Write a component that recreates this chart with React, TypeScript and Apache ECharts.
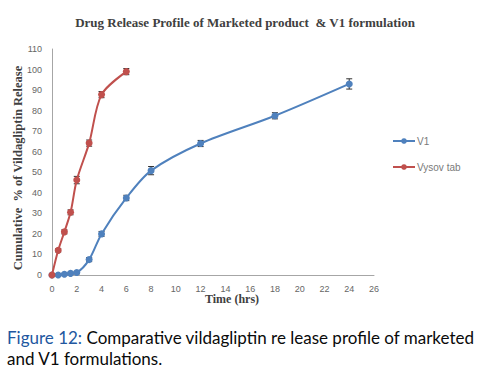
import React, { useEffect, useRef } from "react";
import * as echarts from "echarts";

const v1Time = [0, 0.5, 1, 1.5, 2, 3, 4, 6, 8, 12, 18, 24];
const v1Values = [0, 0, 0.4, 0.8, 1.2, 7.5, 20, 37.5, 50.8, 64, 77.5, 93];
const v1Err = [0, 0.4, 0.4, 0.5, 0.6, 1, 1.2, 1.3, 2, 1.5, 1.5, 2.5];

const vysovTime = [0, 0.5, 1, 1.5, 2, 3, 4, 6];
const vysovValues = [0, 12, 21, 30.5, 46.2, 64.2, 87.8, 99];
const vysovErr = [0, 0.8, 1, 1.2, 1.8, 1.5, 1.5, 1.5];

const xTicks = [0, 26, 2];
const yTicks = [0, 110, 10];

const title = "Drug Release Profile of Marketed product  & V1 formulation";
const yName = "Cumulative  % of Vildagliptin Release";
const xName = "Time (hrs)";

function errSeries(time: number[], vals: number[], errs: number[]) {
  return {
    type: "custom",
    silent: true,
    z: 1,
    data: time.map((t, i) => [t, vals[i], errs[i]]),
    renderItem: (params: any, api: any) => {
      const x = api.value(0);
      const y = api.value(1);
      const e = api.value(2);
      if (!e) return { type: "group", children: [] };
      const hi = api.coord([x, y + e]);
      const lo = api.coord([x, y - e]);
      const st = { stroke: "#333", lineWidth: 1 };
      return {
        type: "group",
        children: [
          { type: "line", shape: { x1: hi[0], y1: hi[1], x2: lo[0], y2: lo[1] }, style: st },
          { type: "line", shape: { x1: hi[0] - 3, y1: hi[1], x2: hi[0] + 3, y2: hi[1] }, style: st },
          { type: "line", shape: { x1: lo[0] - 3, y1: lo[1], x2: lo[0] + 3, y2: lo[1] }, style: st },
        ],
      };
    },
  };
}

export default function App() {
  const ref = useRef<HTMLDivElement>(null);
  useEffect(() => {
    const chart = echarts.init(ref.current!, undefined, { renderer: "svg" });
    chart.setOption({
      animation: false,
      backgroundColor: "#fff",
      grid: { left: 52, right: 108, top: 49, bottom: 100, containLabel: false },
      legend: {
        orient: "vertical",
        left: 387,
        top: 131,
        itemGap: 16,
        itemWidth: 22,
        itemHeight: 7,
        textStyle: { fontFamily: "Liberation Sans, Arial", fontSize: 10, color: "#7a7a7a", padding: [0, 0, 0, -3] },
        data: ["V1", "Vysov tab"],
      },
      xAxis: {
        type: "value",
        min: xTicks[0],
        max: xTicks[1],
        interval: xTicks[2],
        axisLine: { show: true, lineStyle: { color: "#a6a6a6" } },
        axisTick: { show: false },
        splitLine: { show: false },
        axisLabel: { color: "#666", fontSize: 9, fontFamily: "Liberation Sans, Arial", margin: 9 },
      },
      yAxis: {
        type: "value",
        min: yTicks[0],
        max: yTicks[1],
        interval: yTicks[2],
        axisLine: { show: true, lineStyle: { color: "#a6a6a6" } },
        axisTick: { show: false },
        splitLine: { show: false },
        axisLabel: { color: "#666", fontSize: 9, fontFamily: "Liberation Sans, Arial", margin: 10 },
      },
      series: [
        {
          name: "V1",
          type: "line",
          smooth: 0.3,
          data: v1Time.map((t, i) => [t, v1Values[i]]),
          symbol: "circle",
          symbolSize: 7,
          itemStyle: { color: "#4f81bd" },
          lineStyle: { color: "#4f81bd", width: 2 },
          z: 3,
        },
        {
          name: "Vysov tab",
          type: "line",
          smooth: 0.3,
          data: vysovTime.map((t, i) => [t, vysovValues[i]]),
          symbol: "circle",
          symbolSize: 7,
          itemStyle: { color: "#c0504d" },
          lineStyle: { color: "#c0504d", width: 2 },
          z: 4,
        },
        errSeries(v1Time, v1Values, v1Err),
        errSeries(vysovTime, vysovValues, vysovErr),
      ],
      graphic: [
        {
          type: "text",
          x: 245,
          y: 22,
          style: {
            text: title,
            font: "bold 13px 'Liberation Serif', 'Times New Roman', serif",
            fill: "#404040",
            align: "center",
            verticalAlign: "middle",
          },
        },
        {
          type: "text",
          x: 18,
          y: 168,
          rotation: Math.PI / 2,
          style: {
            text: yName,
            font: "bold 12.5px 'Liberation Serif', 'Times New Roman', serif",
            fill: "#404040",
            align: "center",
            verticalAlign: "middle",
          },
        },
        {
          type: "text",
          x: 232,
          y: 299,
          style: {
            text: xName,
            font: "bold 12px 'Liberation Serif', 'Times New Roman', serif",
            fill: "#404040",
            align: "center",
            verticalAlign: "middle",
          },
        },
        {
          type: "text",
          x: 7,
          y: 327,
          style: {
            text: "{b|Figure 12:} Comparative vildagliptin re lease profile of marketed\nand V1 formulations.",
            rich: {
              b: { fill: "#22579f", font: "17px Lato, 'Open Sans', sans-serif" },
            },
            font: "17px Lato, 'Open Sans', sans-serif",
            fill: "#0a0a0a",
            lineHeight: 21,
          },
        },
      ],
    });
    return () => chart.dispose();
  }, []);
  return <div ref={ref} style={{ position: "fixed", left: 0, top: 0, width: 482, height: 375 }} />;
}
